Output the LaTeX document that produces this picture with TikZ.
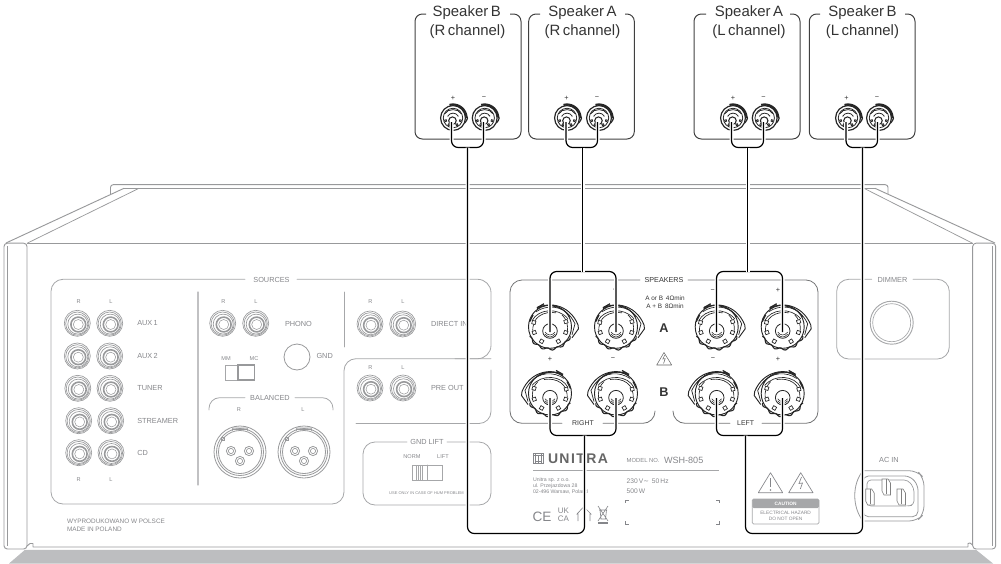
\documentclass[tikz,border=0pt]{standalone}
\usepackage{fontspec}
\setmainfont{Liberation Sans}
\newfontfamily\logofont[LetterSpace=10]{Liberation Sans}
\newfontfamily\dvfont{DejaVu Sans}
\usetikzlibrary{calc}
\newcommand\fz[1]{\fontsize{#1}{#1}\selectfont}
\newcounter{tn}
\definecolor{pl}{HTML}{A6A7A9}
\definecolor{jk}{HTML}{98999B}
\definecolor{tg}{HTML}{85868A}
\definecolor{shadowg}{HTML}{BDBEC0}
\tikzset{
  panel/.style={draw=pl,line width=.6pt,line cap=round},
  chassis/.style={draw=jk,line width=.7pt,line join=round},
  lab/.style={inner sep=0pt,outer sep=0pt,text=tg,font=\fz{5.5}},
  tiny/.style={lab,font=\fz{4.2}},
  blk/.style={inner sep=0pt,outer sep=0pt,text=black!80,font=\fz{4.8}},
  spk/.style={inner sep=0pt,outer sep=0pt,text=black!80,font=\fz{11.2}},
  spkbox/.style={draw=black!75,line width=.75pt,rounded corners=5.5pt},
  cable/.style={draw=black,line width=.9pt,rounded corners=5pt,
     preaction={draw=white,line width=3pt}},
  jack/.pic={
    \draw[jk,line width=.5pt] (0,0) circle (13);
    \draw[jk,line width=.5pt] (0,0.3) circle (11.6);
    \draw[jk,line width=.5pt] (.5,.8) circle (10);
    \draw[jk,line width=1.2pt] (1,1.2) circle (7.4);
    \draw[jk,line width=.4pt] (1,1.2) circle (5);
  },
  xlr/.pic={
    \draw[jk,line width=.6pt] (0,0) circle (26);
    \draw[jk,line width=.6pt] (0,0) circle (23.5);
    \draw[jk,line width=.6pt] (0,0) circle (21.5);
    \draw[jk,line width=.6pt] (-8,-21) -- (-7,-24) -- (7,-24) -- (8,-21);
    \draw[jk,line width=.5pt] (-6,-23) -- (6,-23);
    \draw[jk,line width=.5pt] (-19,-15) rectangle (-16,-12);
    \foreach \p in {(-9,-1),(9,-1),(0,9)}{
      \draw[jk,line width=.6pt] \p circle (4.6);
      \draw[jk,line width=.5pt] \p circle (2.6);
    }
  },
  post/.pic={
    \begin{scope}[shift={(0,-3.2)},line width=.5pt,draw=black!85]
    \draw[line width=.7pt] (0,0) circle (21.5);
    \draw[line width=.85pt] plot[domain=25:155,samples=70,smooth] (\x:{22.3+1*sin(14*\x)});
    \draw[line width=.7pt] (-13,-18) .. controls (-4,-25) and (19,-24) .. (28,-2) -- (28.5,2) -- (22,11);
    \draw[line width=.55pt] (-12,-20) .. controls (-2,-23) and (16,-22) .. (25,-3) -- (22,8);
    \draw (-14,-15) .. controls (-4,-22) and (12,-22) .. (20,-10);
    \draw (-18,-6) .. controls (-12,-18) and (8,-20) .. (18,-8);
    \draw (-17,6) .. controls (-19,-10) and (-6,-16) .. (6,-14);
    \draw (17,6) .. controls (19,-2) and (16,-8) .. (12,-12);
    \foreach \a in {165,200,240,300,340,18}{
      \draw[fill=white,rotate=\a] (15,-1.7) rectangle (18.5,1.7);
    }
    \draw[line width=1pt] (-20.5,-5) -- (-17,-12);
    \draw[line width=1pt] (-13,-19) -- (-6,-23);
    \end{scope}
    \begin{scope}[line width=.5pt,draw=black!85]
    \draw[line width=.6pt] (0,1) circle (7.3);
    \draw[line width=.4pt] (-5,2) .. controls (-2,6) and (2,6) .. (5,2);
    \draw[line width=.4pt] (-5,4) .. controls (-2,8) and (2,8) .. (5,4);
    \end{scope}
  },
  spost/.pic={
    \begin{scope}[scale=.54,line width=.6pt,draw=black!85]
    \draw[line width=.9pt] (0,0) circle (23);
    \draw[line width=1.6pt] plot[domain=-105:-5,samples=30,smooth] (\x:25);
    \draw[line width=.9pt] (24,-1) .. controls (28,-4) and (28,2) .. (22,9);
    \draw (0,0) circle (18);
    \draw (-15,-8) .. controls (-10,-18) and (10,-18) .. (15,-8);
    \draw (-10,-3) .. controls (-6,-11) and (6,-11) .. (10,-3);
    \draw[line width=.8pt] (-1,5) circle (7);
    \foreach \a in {200,240,300,340}{
      \draw[fill=white,rotate=\a] (13,-1.5) rectangle (16,1.5);
    }
    \end{scope}
  },
}
\newcommand\T[4][]{\stepcounter{tn}\node[lab,#1] (t\arabic{tn}) at (#2,#3) {#4};}
\begin{document}
\begin{tikzpicture}[x=.75pt,y=-.75pt]
\useasboundingbox (0,0) rectangle (1001,564);
% shadow
\fill[shadowg] (25,549.8) -- (976,549.8) -- (993,563.5) -- (9,563.5) -- cycle;
% chassis
\draw[chassis,rounded corners=2pt] (110.5,194) -- (110.5,184.7) -- (888,184.7) -- (888,194);
\draw[chassis] (124,188.3) -- (875,188.3);
\draw[chassis] (6,243) -- (124,188.3);
\draw[chassis,line width=.55pt] (27,243.3) -- (139,188.3);
\draw[chassis] (875,188.3) -- (995,243);
\draw[chassis,line width=.55pt] (864,188.3) -- (972.7,243.3);
\draw[chassis] (27,243.3) -- (972.7,243.3);
\draw[chassis,rounded corners=2.5pt] (4,243.2) rectangle (27,549);
\draw[chassis,rounded corners=2.5pt] (972.7,243.2) rectangle (995.7,549);
\draw[chassis,line width=.5pt] (7.5,246) -- (7.5,546);
\draw[chassis,line width=.5pt] (992,246) -- (992,546);
\draw[chassis] (27,546) -- (30,543.5) -- (33,543.5) -- (33,547) -- (968,547) -- (968,543.5) -- (970,543) -- (972.7,545);
% sources panel outline
\draw[panel,rounded corners=9pt] (245,279.3) -- (51,279.3) -- (51,504) -- (344,504) -- (344,358.7) -- (491,358.7);
\draw[panel,rounded corners=10pt] (297,279.3) -- (491,279.3) -- (491,358.7) -- (455,358.7);
\draw[panel,rounded corners=9pt] (491,370) -- (491,423.5) -- (356,423.5);
\draw[panel,line width=.9pt,draw=pl!70] (198,292) -- (198,485);
\draw[panel] (344,292) -- (344,347);
% balanced bracket
\draw[panel,rounded corners=8pt] (209,410) -- (209,397.7) -- (245,397.7);
\draw[panel,rounded corners=8pt] (295,397.7) -- (333,397.7) -- (333,410);
% gnd lift
\draw[panel,rounded corners=9pt] (407,442) -- (363,442) -- (363,505) -- (491,505) -- (491,442) -- (447,442);
% dimmer
\draw[panel,rounded corners=9pt] (871.7,279.3) -- (836.7,279.3) -- (836.7,359) -- (949.3,359) -- (949.3,279.3) -- (913,279.3);
\draw[panel,line width=.7pt] (891.7,322.7) circle (21.5);
\draw[panel,line width=.5pt] (891.7,322.7) circle (19);
% speakers panel
\draw[panel,draw=pl!70!black,rounded corners=9pt] (640,280) -- (510,280) -- (510,423.3) -- (562,423.3);
\draw[panel,draw=pl!70!black,rounded corners=9pt] (603,423.3) -- (655,423.3) -- (655,411);
\draw[panel,draw=pl!70!black,rounded corners=9pt] (688,280) -- (818,280) -- (818,423.3) -- (762,423.3);
\draw[panel,draw=pl!70!black,rounded corners=9pt] (730,423.3) -- (673,423.3) -- (673,411);
% RCA jacks
\foreach \x/\y in {77.3/323.3,109.7/323.3,77.3/356,109.7/356,77.8/388.3,110/388.3,78.7/420.7,110.7/420.7,78.7/452.7,111/452.7,222.7/323.3,255.7/323.3,370/324,402.7/324,370/388,403/388}
  \pic at (\x,\y) {jack};
\pic at (240,452) {xlr};
\pic at (304,452) {xlr};
% GND knob
\draw[jk,line width=.6pt] (297,357) circle (13);
% MM/MC switch
\draw[panel] (225.7,365) rectangle (238,380);
\draw[jk,line width=.9pt] (238,365) rectangle (254.5,380);
% GND lift switch
\draw[panel] (412,465) rectangle (442,480);
\draw[panel] (427,465) -- (427,480);
\foreach \x in {416,418,420,422}{\draw[pl,line width=.5pt] (\x,465) -- (\x,480);}
% labels sources
\T{271.5}{279.5}{SOURCES}
\foreach \n/\y in {AUX\,1/323.3,AUX\,2/356,TUNER/388.3,STREAMER/420.7,CD/452.7}
  {\T[anchor=west]{137.3}{\y}{\n}}
\T[tiny]{78.6}{301.7}{R}\T[tiny]{111}{301.7}{L}
\T[tiny]{78.6}{479.3}{R}\T[tiny]{111}{479.3}{L}
\T[tiny]{223.5}{301.7}{R}\T[tiny]{256}{301.7}{L}
\T[tiny]{370.5}{301.7}{R}\T[tiny]{403}{301.7}{L}
\T[tiny]{370.5}{368}{R}\T[tiny]{403}{368}{L}
\T[tiny]{239}{410}{R}\T[tiny]{303}{410}{L}
\T[tiny]{226}{359}{MM}\T[tiny]{254}{359}{MC}
\T{298.5}{324}{PHONO}
\T[anchor=west]{316.5}{355.7}{GND}
\T{270}{398}{BALANCED}
\T[anchor=west]{431}{388}{PRE OUT}
\T{427}{442}{GND LIFT}
\T[tiny]{412}{457}{NORM}\T[tiny]{443}{457}{LIFT}
\begin{scope}
\clip (380,300) rectangle (467,500);
\T[anchor=west]{431}{324}{DIRECT IN}
\T[font=\fz{3}]{426.5}{492.7}{USE ONLY IN CASE OF HUM PROBLEM}
\end{scope}
\T[anchor=west,font=\fz{4.8}]{67}{521.7}{WYPRODUKOWANO W POLSCE}
\T[anchor=west,font=\fz{4.8}]{67}{529.3}{MADE IN POLAND}
\T{892.5}{280}{DIMMER}
\T{889}{460}{AC IN}
% speaker section labels
\T[blk,font=\fz{5.4}]{664}{280}{SPEAKERS}
\T[blk]{665}{298}{A or B\, 4Ωmin}
\T[blk]{665}{306}{A + B\, 8Ωmin}
\T[blk,font=\bfseries\fz{9.5}]{664}{327.7}{A}
\T[blk,font=\bfseries\fz{9.5}]{664}{391.7}{B}
\T[blk,font=\fz{5.2}]{583}{423.3}{RIGHT}
\T[blk,font=\fz{5.2}]{745.7}{423.3}{LEFT}
\foreach \x/\s/\y in {549/-/290.7,614/-/290.7,712.7/−/290.7,778/+/290.7,550/+/359,613/−/359,713/−/359,778/+/359}
  {\T[blk,font=\fz{5.5}]{\x}{\y}{\s}}
% warning triangle
\draw[black!60,line width=.4pt,line join=round] (664,352.5) -- (671.7,365) -- (656.7,365) -- cycle;
\draw[black!60,line width=.4pt] (664.8,355) -- (662.8,359) -- (665.2,358.7) -- (663.6,363.5);
% big posts
\foreach \x in {550,616,716.7,782.7}{
  \pic at (\x,330) {post};
  \pic[xscale=-1] at (\x,396.7) {post};
}
% nameplate
\T[anchor=west,font=\logofont\bfseries\fz{10.5},text=black!60]{548}{458.5}{UNITRA}
\draw[tg,line width=.6pt] (533,453.5) rectangle (543,463);
\draw[tg,line width=.6pt] (535,453.5) -- (535,463) (541,453.5) -- (541,463) (533,455.5) -- (543,455.5) (538,456) -- (538,463) (535,461) -- (541,461);
\T[anchor=west,font=\fz{4.4}]{626.7}{460.5}{MODEL NO.}
\T[anchor=west,font=\fz{6.8}]{664}{460}{WSH-805}
\draw[pl,line width=.8pt] (533,470.8) -- (719,470.8);
\T[anchor=west,font=\fz{3.9}]{533}{480}{Unitra sp. z o.o.}
\T[anchor=west,font=\fz{3.9}]{533}{485.8}{ul. Przejazdowa 28}
\T[anchor=west,font=\fz{3.9}]{533}{491.7}{02-496 Warsaw, Poland}
\T[anchor=west,font=\fz{5}]{626.7}{481}{230\,V{\dvfont ∼}\, 50\,Hz}
\T[anchor=west,font=\fz{5}]{626.7}{491}{500\,W}
\foreach \a/\b/\c/\d in {625.7/500/628.7/503,719.3/500/716.3/503,625.7/524/628.7/521,719.3/524/716.3/521}
  {\draw[tg,line width=.5pt] (\c,\b) -- (\a,\b) -- (\a,\d);}
\T[anchor=west,font=\fz{10.2}]{532.5}{516.5}{CE}
\T[font=\fz{6}]{563.5}{510.5}{UK}
\T[font=\fz{6}]{563.5}{518.3}{CA}
\draw[tg,line width=.5pt] (578,521) -- (578,514) -- (577,514) -- (583,507.5);
\draw[tg,line width=.5pt] (586,509) -- (591,514) -- (590,514) -- (590,521);
\draw[tg,line width=.5pt] (599,510) -- (607,510) (600,510) -- (601,519) -- (605.5,519) -- (606.5,510) (598,506) -- (608,521) (608,506) -- (598,521);
\fill[tg] (598,521.5) rectangle (608,523.5);
% warnings
\draw[tg,line width=.5pt,line join=round] (770.5,472.7) -- (782.7,492.7) -- (758.3,492.7) -- cycle;
\draw[tg,line width=.9pt] (770.5,478) -- (770.5,487);
\fill[tg] (770.5,490) circle (.9);
\draw[tg,line width=.5pt,line join=round] (800.7,472.7) -- (813,492.7) -- (788.7,492.7) -- cycle;
\draw[tg,line width=.5pt] (801.5,477) -- (799,483.5) -- (802.5,483) -- (800.3,489);
\draw[pl,line width=.5pt,rounded corners=1pt] (752.3,499) rectangle (819,524);
\fill[pl,rounded corners=1pt] (752.3,499) rectangle (819,508);
\T[font=\bfseries\fz{3.6},text=white]{785.6}{503.7}{CAUTION}
\T[font=\fz{3.6}]{785.6}{513}{ELECTRICAL HAZARD}
\T[font=\fz{3.6}]{785.6}{519}{DO NOT OPEN}
% AC inlet
\draw[jk,line width=.6pt,rounded corners=6pt] (863,470.7) -- (917,470.7) -- (924,478) -- (924,514) -- (917,521) -- (863,521);
\draw[jk,line width=.6pt] (863,470.7) .. controls (852,484) and (852,507) .. (863,521);
\draw[jk,line width=.6pt,rounded corners=4pt] (863,476) -- (910,476) -- (918,485) -- (918,516.7) -- (863,516.7) -- cycle;
\draw[jk,line width=.5pt,rounded corners=3pt] (867,480) -- (908,480) -- (914,488) -- (914,505) -- (908,506) -- (867,506) -- cycle;
\foreach \x/\y in {869.7/497,886/487,901/497}{
  \draw[black!50,line width=.45pt,fill=white] (\x-4,\y-8) -- (\x+2,\y-8) -- (\x+4.5,\y-4) -- (\x+4.5,\y+8) -- (\x-2,\y+8) -- (\x-4,\y+4) -- cycle;
  \draw[black!50,line width=.35pt] (\x+.5,\y-8) -- (\x+.5,\y+7);
}
% speakers
\foreach \l/\r/\g/\h/\n in {415/521/426/510/a,528.7/634.3/540/625/b,694/800/706/790/c,809.3/915/820/905/d}{
  \draw[spkbox] (\g,14) -- (\l,14) -- (\l,139) -- (\r,139) -- (\r,14) -- (\h,14);
}
\T[spk]{466.7}{12.7}{Speaker\,B}\T[spk]{467.5}{32}{(R\,channel)}
\T[spk]{582.5}{12.7}{Speaker\,A}\T[spk]{582.5}{32}{(R\,channel)}
\T[spk]{749}{12.7}{Speaker\,A}\T[spk]{749}{32}{(L\,channel)}
\T[spk]{862.5}{12.7}{Speaker\,B}\T[spk]{862.5}{32}{(L\,channel)}
\foreach \x/\s in {453/+,484/−,566.5/+,597/−,733/+,763.5/−,846.5/+,877/−}
  {\T[blk,font=\fz{5.5}]{\x}{98}{\s}}
\foreach \x in {453,484.7,567,599,733,764.7,848,879}
  \pic at (\x,118) {spost};
% connection points
\coordinate (s1p) at (451.5,122); \coordinate (s1m) at (483.5,122); \coordinate (s1b) at (467.5,147.5);
\coordinate (s2p) at (566,122);   \coordinate (s2m) at (597.5,122); \coordinate (s2b) at (582.5,147.5);
\coordinate (s3p) at (731.5,122); \coordinate (s3m) at (763.5,122); \coordinate (s3b) at (747.5,147.5);
\coordinate (s4p) at (846,122);   \coordinate (s4m) at (877.5,122); \coordinate (s4b) at (862.5,147.5);
\coordinate (ra1) at (550,332); \coordinate (ra2) at (616,332); \coordinate (rat) at (582.5,271.5);
\coordinate (la1) at (716.5,332); \coordinate (la2) at (782.5,332); \coordinate (lat) at (747.5,271.5);
\coordinate (rb1) at (550,398); \coordinate (rb2) at (616,398); \coordinate (rbb) at (584.5,435.5);
\coordinate (lb1) at (716.5,398); \coordinate (lb2) at (782.5,398); \coordinate (lbb) at (745.5,435.5);
\coordinate (rlow) at (526,533.5); \coordinate (llow) at (804,533.5);
% cables
\draw[cable] (s1p) |- (s1b) -| (s1m);
\draw[cable] (s2p) |- (s2b) -| (s2m);
\draw[cable] (s3p) |- (s3b) -| (s3m);
\draw[cable] (s4p) |- (s4b) -| (s4m);
\draw[cable] (ra1) |- (rat) -| (ra2);
\draw[cable] (la1) |- (lat) -| (la2);
\draw[cable] (rb1) |- (rbb) -| (rb2);
\draw[cable] (lb1) |- (lbb) -| (lb2);
\draw[cable] (s2b) -- (rat);
\draw[cable] (s3b) -- (lat);
\draw[cable] (s1b) |- (rlow) -| (rbb);
\draw[cable] (s4b) |- (llow) -| (lbb);
\end{tikzpicture}
\end{document}
